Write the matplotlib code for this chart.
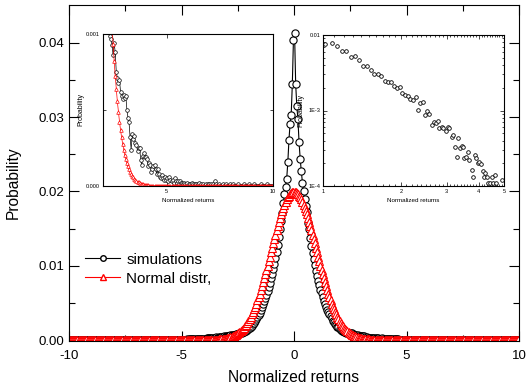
import numpy as np
import matplotlib
matplotlib.use("Agg")
from matplotlib import pyplot as plt
from matplotlib.lines import Line2D
from matplotlib.ticker import FixedLocator, FixedFormatter, NullFormatter

plt.rcParams['font.family'] = ['Liberation Sans', 'DejaVu Sans']
plt.rcParams['axes.unicode_minus'] = False

# bin centres of the histogram (width 0.05)
x_bins = np.arange(-9.975, 10.0, 0.05)

# simulated returns, right half (x = 0.025, 0.075, ...)
sim_right = [
    0.0413, 0.0344, 0.0315, 0.0297, 0.0266, 0.0244, 0.0227, 0.0212,
    0.0200, 0.0190, 0.0181, 0.0172, 0.0158, 0.0149, 0.0138, 0.0126,
    0.0117, 0.0109, 0.0101, 0.0093, 0.0086, 0.0080, 0.0074, 0.0068,
    0.0063, 0.0058, 0.0053, 0.0049, 0.0045, 0.0041, 0.0038, 0.0035,
    0.0032, 0.0029, 0.0026, 0.0024, 0.0022, 0.0020, 0.0018, 0.0017,
    0.00150, 0.00138, 0.00127, 0.00118, 0.00110, 0.00104, 0.00099, 0.00097,
    0.00093, 0.00086, 0.00094, 0.00088, 0.00075, 0.00071, 0.00068, 0.00070,
    0.00062, 0.00059, 0.00057, 0.00060, 0.00058, 0.00059, 0.00050, 0.00045,
    0.00042, 0.00032, 0.00024, 0.00034, 0.00031, 0.00033, 0.00028, 0.00027,
    0.00023, 0.00025, 0.00025, 0.00017, 0.00014, 0.00020, 0.00022, 0.00019,
    0.00019, 0.00018, 0.00013, 0.00015, 0.00014, 0.00009, 0.00011, 0.00013,
    0.00014, 0.00011, 0.00008, 0.00011, 0.00008, 0.00006, 0.00005, 0.00007,
    0.00005, 0.00004, 0.00006, 0.00004, 0.00005, 0.00003, 0.00006, 0.00004,
    0.00003, 0.00004, 0.00002, 0.00005, 0.00003, 0.00002, 0.00003, 0.00001,
    0.00003, 0.00002, 0.00002, 0.00001, 0.00002, 0.00001, 0.0, 0.00002,
    0.00001, 0.00001, 0.0, 0.00002, 0.00001, 0.0, 0.00001, 0.00001,
    0.0, 0.00001, 0.00002, 0.0, 0.00001, 0.0, 0.00001, 0.0,
    0.00001, 0.0, 0.00001, 0.00001, 0.0, 0.00001, 0.0, 0.00001,
    0.0, 0.00003, 0.00001, 0.0, 0.0, 0.00001, 0.0, 0.0,
    0.00001, 0.0, 0.0, 0.00001, 0.0, 0.0, 0.0, 0.00001,
    0.0, 0.0, 0.00001, 0.0, 0.0, 0.0, 0.0, 0.00001,
    0.0, 0.0, 0.0, 0.0, 0.00001, 0.0, 0.0, 0.0,
    0.0, 0.00001, 0.0, 0.0, 0.0, 0.0, 0.00001, 0.0,
    0.0, 0.0, 0.0, 0.0, 0.00001, 0.0, 0.0, 0.0,
    0.0, 0.0, 0.00001, 0.0, 0.0, 0.0, 0.0, 0.0,
]

# simulated returns, left half, going outwards (x = -0.025, -0.075, ...)
sim_left = [
    0.0404, 0.0344, 0.0303, 0.0291, 0.0269, 0.0239, 0.0217, 0.0206,
    0.0196, 0.0184, 0.0171, 0.0160, 0.0149, 0.0139, 0.0128, 0.0119,
    0.0111, 0.0103, 0.0096, 0.0089, 0.0083, 0.0077, 0.0071, 0.0066,
    0.0061, 0.0056, 0.0052, 0.0048, 0.0044, 0.0040, 0.0037, 0.0034,
    0.0031, 0.0028, 0.0026, 0.0023, 0.0021, 0.0019, 0.0018, 0.0016,
    0.00150, 0.00140, 0.00128, 0.00120, 0.00112, 0.00103, 0.00098, 0.00092,
    0.00090, 0.00083, 0.00086, 0.00079, 0.00072, 0.00074, 0.00066, 0.00063,
    0.00065, 0.00058, 0.00054, 0.00056, 0.00050, 0.00047, 0.00049, 0.00042,
    0.00040, 0.00038, 0.00041, 0.00034, 0.00032, 0.00035, 0.00029, 0.00028,
    0.00030, 0.00024, 0.00026, 0.00022, 0.00021, 0.00023, 0.00018, 0.00019,
    0.00017, 0.00016, 0.00018, 0.00014, 0.00013, 0.00015, 0.00012, 0.00011,
    0.00012, 0.00010, 0.00009, 0.00011, 0.00008, 0.00009, 0.00007, 0.00008,
    0.00006, 0.00007, 0.00005, 0.00006, 0.00004, 0.00005, 0.00004, 0.00003,
    0.00004, 0.00003, 0.00003, 0.00002, 0.00003, 0.00002, 0.00002, 0.00001,
    0.00002, 0.00001, 0.00002, 0.00001, 0.0, 0.00001, 0.00001, 0.0,
    0.00001, 0.0, 0.00001, 0.0, 0.0, 0.00001, 0.0, 0.0,
    0.0, 0.00001, 0.0, 0.0, 0.0, 0.00001, 0.0, 0.0,
    0.0, 0.0, 0.00001, 0.0, 0.0, 0.0, 0.0, 0.0,
    0.00001, 0.0, 0.0, 0.0, 0.0, 0.0, 0.0, 0.0,
    0.0, 0.0, 0.0, 0.00001, 0.0, 0.0, 0.0, 0.0,
    0.0, 0.0, 0.0, 0.0, 0.0, 0.0, 0.0, 0.0,
    0.0, 0.0, 0.0, 0.0, 0.0, 0.0, 0.0, 0.0,
    0.0, 0.0, 0.0, 0.0, 0.0, 0.0, 0.0, 0.0,
    0.0, 0.0, 0.0, 0.0, 0.0, 0.0, 0.0, 0.0,
    0.0, 0.0, 0.0, 0.0, 0.0, 0.0, 0.0, 0.0,
]

# normal distribution per bin, one half (symmetric)
norm_half = [
    0.019941, 0.019891, 0.019792, 0.019644, 0.019449, 0.019207, 0.018921, 0.018593,
    0.018225, 0.017819, 0.017379, 0.016908, 0.016408, 0.015883, 0.015337, 0.014773,
    0.014193, 0.013603, 0.013004, 0.012401, 0.011796, 0.011193, 0.010594, 0.010002,
    0.009420, 0.008849, 0.008292, 0.007751, 0.007227, 0.006721, 0.006236, 0.005771,
    0.005327, 0.004905, 0.004505, 0.004128, 0.003772, 0.003439, 0.003127, 0.002837,
    0.002567, 0.002317, 0.002086, 0.001873, 0.001678, 0.001500, 0.001337, 0.001188,
    0.001054, 0.000933, 0.000823, 0.000724, 0.000636, 0.000557, 0.000487, 0.000424,
    0.000369, 0.000320, 0.000277, 0.000239, 0.000205, 0.000177, 0.000151, 0.000129,
    0.000110, 0.0000935, 0.0000793, 0.0000670, 0.0000566, 0.0000476, 0.0000400, 0.0000335,
    0.0000280, 0.0000233, 0.0000194, 0.0000161, 0.0000133, 0.0000109, 0.0000090, 0.0000074,
    0.0000060, 0.0000049, 0.0000040, 0.0000032, 0.0000026, 0.0000021, 0.0000017, 0.0000013,
    0.0000011, 0.0000009,
] + [0.0] * 110

# tail in log-log inset
tail_x = [1.018, 1.080, 1.129, 1.181, 1.227, 1.279, 1.329, 1.381, 1.423, 1.479,
          1.528, 1.578, 1.626, 1.674, 1.735, 1.788, 1.830, 1.880, 1.925, 1.983,
          2.025, 2.073, 2.123, 2.167, 2.219, 2.286, 2.320, 2.369, 2.426, 2.476,
          2.513, 2.574, 2.628, 2.691, 2.731, 2.772, 2.813, 2.871, 2.915, 2.976,
          3.030, 3.075, 3.140, 3.185, 3.234, 3.281, 3.331, 3.381, 3.431, 3.462,
          3.514, 3.565, 3.620, 3.673, 3.750, 3.805, 3.863, 3.897, 3.955, 4.014,
          4.074, 4.135, 4.197, 4.222, 4.285, 4.348, 4.415, 4.479, 4.547, 4.614,
          4.656, 4.897]
tail_y = [0.0076, 0.0079, 0.0072, 0.0062, 0.0061, 0.0051, 0.0052, 0.0047, 0.0039, 0.0039,
          0.00344, 0.00304, 0.00307, 0.00289, 0.00246, 0.00241, 0.00236, 0.00213, 0.00197, 0.00207,
          0.00172, 0.00159, 0.00156, 0.00141, 0.00136, 0.00149, 0.00102, 0.00125, 0.00130, 0.00087,
          0.00097, 0.00089, 0.00064, 0.00071, 0.00069, 0.00073, 0.00058, 0.00060, 0.00058, 0.00054,
          0.00060, 0.00058, 0.00044, 0.00047, 0.00033, 0.000245, 0.00043, 0.00032, 0.00034, 0.00033,
          0.000237, 0.000245, 0.000285, 0.00022, 0.000163, 0.000133, 0.000258, 0.000232, 0.00020, 0.00021,
          0.000195, 0.00016, 0.000133, 0.00015, 0.000133, 0.00011, 0.00011, 0.000133, 0.000108, 0.00014,
          0.00011, 0.00012]

sim = np.array(sim_left[::-1] + sim_right)
normal = np.array(norm_half[::-1] + norm_half)

W, H = 529, 391
fig = plt.figure(figsize=(W / 100, H / 100), dpi=100)


def px_axes(left, top, right, bottom):
    return fig.add_axes([left / W, 1 - bottom / H, (right - left) / W, (bottom - top) / H])


def ticks_in(ax, size, maj, mnr, width=0.8):
    ax.tick_params(which='both', direction='in', top=True, right=True, width=width)
    ax.tick_params(which='major', length=maj, labelsize=size)
    ax.tick_params(which='minor', length=mnr)


# main plot
ax = px_axes(69, 5, 519, 341)
ax.plot(x_bins, sim, '-o', color='black', lw=0.8, ms=5.2, mfc='white', mec='black', mew=0.8)
ax.plot(x_bins, normal, '-^', color='red', lw=0.8, ms=5.8, mfc='white', mec='red', mew=0.8)
ax.set_xlim(-10, 10)
ax.set_ylim(-0.00013, 0.0451)
ax.set_xticks([-10, -5, 0, 5, 10])
ax.xaxis.set_minor_locator(FixedLocator([-7.5, -2.5, 2.5, 7.5]))
ax.set_yticks([0, 0.01, 0.02, 0.03, 0.04])
ax.set_yticklabels(['0.00', '0.01', '0.02', '0.03', '0.04'])
ax.yaxis.set_minor_locator(FixedLocator([0.005, 0.015, 0.025, 0.035]))
ticks_in(ax, 9.5, 7, 4)
ax.tick_params(axis='x', pad=6.5)
ax.set_xlabel('Normalized returns', fontsize=11.2, labelpad=6)
ax.set_ylabel('Probability', fontsize=11.2)
ax.yaxis.set_label_coords(-0.107, 0.47)

handles = [
    Line2D([], [], color='black', lw=0.8, marker='o', ms=4, mfc='white', mec='black'),
    Line2D([], [], color='red', lw=0.8, marker='^', ms=4, mfc='white', mec='red'),
]
ax.legend(handles, ['simulations', 'Normal distr,'], loc='upper left',
          bbox_to_anchor=(0.036, 0.263), frameon=False, fontsize=11,
          handlelength=2.3, handletextpad=0.4, labelspacing=0.33,
          borderpad=0, borderaxespad=0)

# inset: linear tail
ax1 = px_axes(103, 34, 273, 186)
ax1.plot(x_bins, sim, '-o', color='black', lw=0.5, ms=2.6, mfc='white', mec='black', mew=0.5)
ax1.plot(x_bins, normal, '-^', color='red', lw=0.5, ms=2.6, mfc='white', mec='red', mew=0.5)
ax1.set_xlim(2, 10)
ax1.set_ylim(0, 0.001)
ax1.set_xticks([5, 10])
ax1.set_yticks([0, 0.001])
ax1.set_yticklabels(['0.000', '0.001'])
ax1.yaxis.set_minor_locator(FixedLocator([0.0005]))
ticks_in(ax1, 4, 3, 2, width=0.5)
ax1.tick_params(pad=2)
ax1.set_xlabel('Normalized returns', fontsize=4.5, labelpad=3)
ax1.set_ylabel('Probability', fontsize=5, labelpad=1)
for s in ax1.spines.values():
    s.set_linewidth(0.8)

# inset: log-log tail
ax2 = px_axes(323, 35, 504, 186)
ax2.loglog(tail_x, tail_y, 'o', ms=2.6, mfc='white', mec='black', mew=0.6)
ax2.set_xlim(1, 5)
ax2.set_ylim(1e-4, 1e-2)
ax2.xaxis.set_major_locator(FixedLocator([1, 2, 3, 4, 5]))
ax2.xaxis.set_major_formatter(FixedFormatter(['1', '2', '3', '4', '5']))
ax2.xaxis.set_minor_locator(FixedLocator(np.arange(1.1, 5.0, 0.1)))
ax2.xaxis.set_minor_formatter(NullFormatter())
ax2.yaxis.set_major_locator(FixedLocator([1e-4, 1e-3, 1e-2]))
ax2.yaxis.set_major_formatter(FixedFormatter(['1E-4', '1E-3', '0.01']))
ax2.yaxis.set_minor_formatter(NullFormatter())
ticks_in(ax2, 4, 3, 1.5, width=0.5)
ax2.tick_params(pad=2)
ax2.set_xlabel('Normalized returns', fontsize=4.5, labelpad=3)
ax2.set_ylabel('Probability', fontsize=5, labelpad=3)
for s in ax2.spines.values():
    s.set_linewidth(0.8)

fig.savefig('out.png', dpi=100)
